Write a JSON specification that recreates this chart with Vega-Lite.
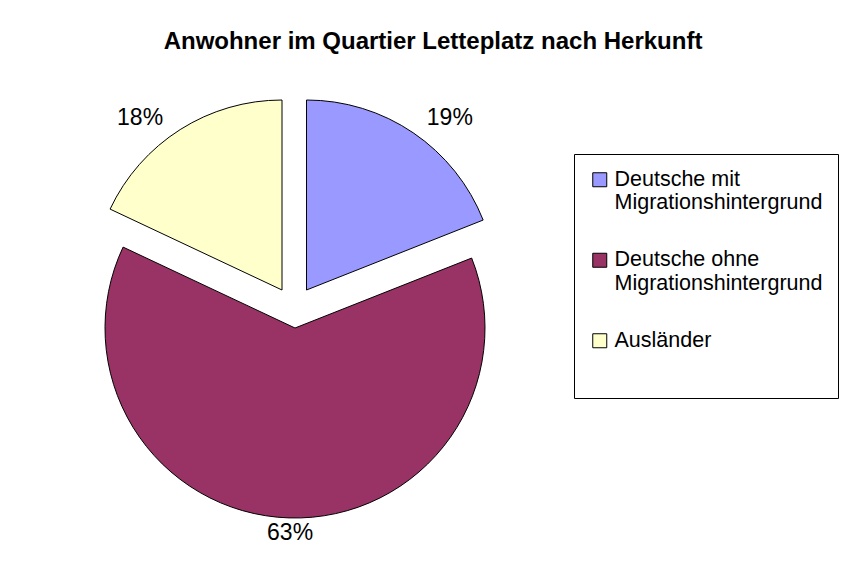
{
  "$schema": "https://vega.github.io/schema/vega-lite/v6.json",
  "autosize": {"type": "none"},
  "width": 589,
  "height": 494,
  "padding": {"left": 0, "top": 60, "right": 252, "bottom": 13},
  "background": "white",
  "config": {"view": {"stroke": null}, "font": "Liberation Sans"},
  "title": {
    "text": "Anwohner im Quartier Letteplatz nach Herkunft",
    "font": "Liberation Sans",
    "fontSize": 24,
    "fontWeight": "bold",
    "color": "black",
    "anchor": "middle",
    "dx": 138.5,
    "dy": 24,
    "baseline": "middle",
    "offset": 18
  },
  "data": {
    "values": [
      {"Herkunft": "Deutsche mit Migrationshintergrund", "Anteil": 0.19, "Reihenfolge": 1},
      {"Herkunft": "Deutsche ohne Migrationshintergrund", "Anteil": 0.63, "Reihenfolge": 2},
      {"Herkunft": "Ausländer", "Anteil": 0.18, "Reihenfolge": 3}
    ]
  },
  "encoding": {
    "theta": {"field": "Anteil", "type": "quantitative", "stack": true, "scale": {"domain": [0, 1]}},
    "order": {"field": "Reihenfolge", "type": "quantitative"},
    "color": {
      "field": "Herkunft",
      "type": "nominal",
      "scale": {
        "domain": ["Deutsche mit Migrationshintergrund", "Deutsche ohne Migrationshintergrund", "Ausländer"],
        "range": ["#9999FF", "#993366", "#FFFFCC"]
      },
      "legend": {
        "orient": "none",
        "legendX": 574,
        "legendY": 94,
        "title": " ",
        "titleOrient": "bottom",
        "titleAnchor": "start",
        "titleLimit": 5,
        "titleFontSize": 28,
        "titlePadding": 4,
        "strokeColor": "black",
        "fillColor": "white",
        "padding": 15,
        "symbolType": "square",
        "symbolSize": 196,
        "symbolStrokeColor": "black",
        "symbolStrokeWidth": 1,
        "symbolOpacity": 1,
        "labelFont": "Liberation Sans",
        "labelFontSize": 21.5,
        "labelColor": "black",
        "labelLimit": 400,
        "labelOffset": 4,
        "rowPadding": 34.5,
        "labelExpr": "indexof(datum.label, ' Migration') > 0 ? [substring(datum.label, 0, indexof(datum.label, ' Migration')), substring(datum.label, indexof(datum.label, ' Migration') + 1)] : datum.label"
      }
    }
  },
  "layer": [
    {
      "mark": {"type": "arc", "radius": 190, "stroke": "black", "strokeWidth": 1, "xOffset": 12, "yOffset": -17},
      "encoding": {"opacity": {"condition": {"test": "datum.Herkunft === 'Deutsche mit Migrationshintergrund'", "value": 1}, "value": 0}}
    },
    {
      "mark": {"type": "arc", "radius": 190, "stroke": "black", "strokeWidth": 1, "xOffset": 0.5, "yOffset": 21},
      "encoding": {"opacity": {"condition": {"test": "datum.Herkunft === 'Deutsche ohne Migrationshintergrund'", "value": 1}, "value": 0}}
    },
    {
      "mark": {"type": "arc", "radius": 190, "stroke": "black", "strokeWidth": 1, "xOffset": -12.5, "yOffset": -17},
      "encoding": {"opacity": {"condition": {"test": "datum.Herkunft === 'Ausländer'", "value": 1}, "value": 0}}
    },
    {
      "mark": {"type": "text", "radius": 223, "xOffset": 30, "yOffset": -5, "font": "Liberation Sans", "fontSize": 23},
      "encoding": {
        "color": {"value": "black"},
        "text": {"field": "Anteil", "type": "quantitative", "format": ".0%"},
        "opacity": {"condition": {"test": "datum.Herkunft === 'Deutsche mit Migrationshintergrund'", "value": 1}, "value": 0}
      }
    },
    {
      "mark": {"type": "text", "radius": 205, "xOffset": 2, "yOffset": 21, "font": "Liberation Sans", "fontSize": 23},
      "encoding": {
        "color": {"value": "black"},
        "text": {"field": "Anteil", "type": "quantitative", "format": ".0%"},
        "opacity": {"condition": {"test": "datum.Herkunft === 'Deutsche ohne Migrationshintergrund'", "value": 1}, "value": 0}
      }
    },
    {
      "mark": {"type": "text", "radius": 221, "xOffset": -36, "yOffset": -2, "font": "Liberation Sans", "fontSize": 23},
      "encoding": {
        "color": {"value": "black"},
        "text": {"field": "Anteil", "type": "quantitative", "format": ".0%"},
        "opacity": {"condition": {"test": "datum.Herkunft === 'Ausländer'", "value": 1}, "value": 0}
      }
    }
  ]
}
